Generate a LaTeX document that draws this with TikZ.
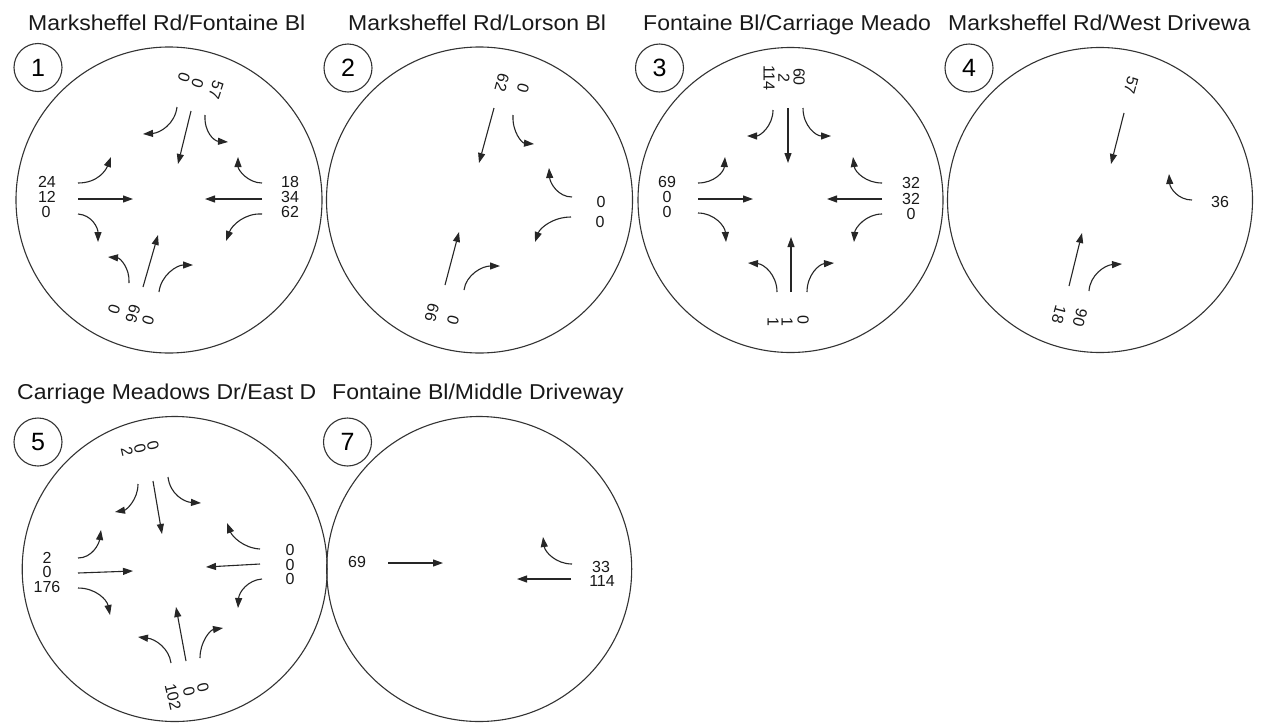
\documentclass[tikz,border=0pt]{standalone}
\usepackage{fontspec}
\setmainfont{Liberation Sans}
\usetikzlibrary{arrows.meta}
\begin{document}
\begin{tikzpicture}[x=1pt,y=-1pt,
  big/.style={draw=black!80, line width=1.1pt},
  mv/.style={draw=black!85, line width=1.1pt, -{Triangle[length=10pt,width=7pt]}},
  num/.style={font=\fontsize{16}{17}\selectfont, inner sep=0pt, text=black!90},
  ttl/.style={font=\fontsize{21.5}{24}\selectfont, inner sep=0pt, anchor=base west, text=black!90},
  idc/.style={circle, draw=black!80, line width=1.1pt, minimum size=48pt, inner sep=0pt, font=\fontsize{25}{28}\selectfont}
]
\fill[white] (0,0) rectangle (1265,723);
\useasboundingbox (0,0) rectangle (1265,723);

% titles
\node[ttl] (t1) at (28,30) {\scalebox{1.07}[1]{Marksheffel Rd/Fontaine Bl}};
\node[ttl] (t2) at (348,30) {\scalebox{1.07}[1]{Marksheffel Rd/Lorson Bl}};
\node[ttl] (t3) at (643,30) {\scalebox{1.07}[1]{Fontaine Bl/Carriage Meado}};
\node[ttl] (t4) at (948,30) {\scalebox{1.07}[1]{Marksheffel Rd/West Drivewa}};
\node[ttl] (t5) at (17,399) {\scalebox{1.07}[1]{Carriage Meadows Dr/East D}};
\node[ttl] (t7) at (332,399) {\scalebox{1.07}[1]{Fontaine Bl/Middle Driveway}};

% id circles
\node[idc] (i1) at (38,67.5) {1};
\node[idc] (i2) at (348,68) {2};
\node[idc] (i3) at (659.5,68) {3};
\node[idc] (i4) at (969,68) {4};
\node[idc] (i5) at (38,442) {5};
\node[idc] (i7) at (347.5,442) {7};

% big circles
\draw[big] (169,200) circle[radius=153pt];
\draw[big] (479.5,200) circle[radius=153pt];
\draw[big] (790.5,200) circle[radius=152.5pt];
\draw[big] (1100,200) circle[radius=152.5pt];
\draw[big] (174.7,569) circle[radius=152.5pt];
\draw[big] (479.2,569) circle[radius=152.5pt];

% ---------- circle 1 ----------
\draw[mv] (78,183) .. controls (98,183) and (106,170) .. (111,157);
\draw[mv] (78,199) -- (133,199);
\draw[mv] (78,214) .. controls (92,215) and (98,228) .. (98,242);
\draw[mv] (262,183) .. controls (248,183) and (238,170) .. (238,157);
\draw[mv] (262,199) -- (205,199);
\draw[mv] (262,214) .. controls (245,213) and (232,225) .. (226,241);
\draw[mv] (177,107) .. controls (175,124) and (160,133) .. (143,134);
\draw[mv] (191,111) -- (178,164);
\draw[mv] (205,115) .. controls (204,132) and (214,141) .. (228,142);
\draw[mv] (129,283) .. controls (130,268) and (120,258) .. (108,257);
\draw[mv] (143,287) -- (158,235);
\draw[mv] (159,292) .. controls (161,275) and (177,265) .. (193,265);
\node[num] (a1w1) at (47,182) {24};
\node[num] (a1w2) at (47,197) {12};
\node[num] (a1w3) at (46,212) {0};
\node[num] (a1e1) at (290,182) {18};
\node[num] (a1e2) at (290,197) {34};
\node[num] (a1e3) at (290,212) {62};
\node[num, rotate=-108] (a1n1) at (184,77) {0};
\node[num, rotate=-108] (a1n2) at (197.5,83) {0};
\node[num, rotate=-108] (a1n3) at (216,90) {57};
\node[num, rotate=-107] (a1s1) at (114,309) {0};
\node[num, rotate=-107] (a1s2) at (133,314) {66};
\node[num, rotate=-107] (a1s3) at (148,320) {0};

% ---------- circle 2 ----------
\draw[mv] (494,108) -- (479,163);
\draw[mv] (513,115) .. controls (512,132) and (522,143) .. (534,144);
\draw[mv] (572,197) .. controls (558,197) and (550,183) .. (549,168);
\draw[mv] (571,217) .. controls (553,217) and (540,228) .. (535,242);
\draw[mv] (445,285) -- (459,232);
\draw[mv] (464,290) .. controls (466,275) and (482,266) .. (500,266);
\node[num, rotate=-105] (a2n1) at (502,83) {62};
\node[num, rotate=-105] (a2n2) at (523,88) {0};
\node[num] (a2e1) at (601,202) {0};
\node[num] (a2e2) at (600,222) {0};
\node[num, rotate=-105] (a2s1) at (432,313) {66};
\node[num, rotate=-105] (a2s2) at (453,320) {0};

% ---------- circle 3 ----------
\draw[mv] (773,110) .. controls (773,126) and (760,136) .. (747,136);
\draw[mv] (788,108) -- (788,163);
\draw[mv] (803,108) .. controls (803,126) and (816,136) .. (831,136);
\draw[mv] (698,183) .. controls (714,183) and (724,172) .. (725,157);
\draw[mv] (698,199) -- (753,199);
\draw[mv] (698,213) .. controls (714,213) and (725,226) .. (726,242);
\draw[mv] (882,183) .. controls (866,183) and (855,172) .. (853,157);
\draw[mv] (882,199) -- (827,199);
\draw[mv] (882,214) .. controls (866,214) and (855,228) .. (854,242);
\draw[mv] (777,292) .. controls (777,275) and (764,264) .. (748,263);
\draw[mv] (791,292) -- (791,237);
\draw[mv] (807,292) .. controls (807,275) and (819,264) .. (834,263);
\node[num] (a3w1) at (667,182) {69};
\node[num] (a3w2) at (667,197) {0};
\node[num] (a3w3) at (667,212) {0};
\node[num] (a3e1) at (911,183) {32};
\node[num] (a3e2) at (911,199) {32};
\node[num] (a3e3) at (911,214) {0};
\node[num, rotate=-90] (a3n1) at (769,78) {114};
\node[num, rotate=-90] (a3n2) at (784,78) {2};
\node[num, rotate=-90] (a3n3) at (799,77) {60};
\node[num, rotate=-90] (a3s1) at (773,322) {1};
\node[num, rotate=-90] (a3s2) at (787,322) {1};
\node[num, rotate=-90] (a3s3) at (803,320) {0};

% ---------- circle 4 ----------
\draw[mv] (1124,113) -- (1111,164);
\draw[mv] (1192,200) .. controls (1178,200) and (1170,188) .. (1169,174);
\draw[mv] (1069,286) -- (1082,233);
\draw[mv] (1089,291) .. controls (1090,275) and (1105,265) .. (1122,264);
\node[num, rotate=-105] (a4n1) at (1131,85) {57};
\node[num] (a4e1) at (1220,202) {36};
\node[num, rotate=-105] (a4s1) at (1059,315) {18};
\node[num, rotate=-105] (a4s2) at (1080,318) {90};

% ---------- circle 5 ----------
\draw[mv] (138,484) .. controls (138,500) and (126,510) .. (115,512);
\draw[mv] (153,481) -- (162,534);
\draw[mv] (168,477) .. controls (170,494) and (184,502) .. (201,503);
\draw[mv] (78,558) .. controls (92,558) and (99,544) .. (101,530);
\draw[mv] (78,573) -- (133,571);
\draw[mv] (78,588) .. controls (96,588) and (107,600) .. (110,615);
\draw[mv] (260,549) .. controls (243,548) and (232,536) .. (227,523);
\draw[mv] (260,564) -- (206,567);
\draw[mv] (262,579) .. controls (248,580) and (239,592) .. (238,608);
\draw[mv] (171,663) .. controls (169,648) and (155,639) .. (138,637);
\draw[mv] (186,661) -- (176,607);
\draw[mv] (200,658) .. controls (200,642) and (210,630) .. (223,628);
\node[num] (a5w1) at (47,558) {2};
\node[num] (a5w2) at (47,572) {0};
\node[num] (a5w3) at (47,587) {176};
\node[num] (a5e1) at (290,550) {0};
\node[num] (a5e2) at (290,565) {0};
\node[num] (a5e3) at (290,579) {0};
\node[num, rotate=-77] (a5n1) at (127,452) {2};
\node[num, rotate=-77] (a5n2) at (140,449) {0};
\node[num, rotate=-77] (a5n3) at (153,446) {0};
\node[num, rotate=-77] (a5s1) at (203,688) {0};
\node[num, rotate=-77] (a5s2) at (189,692) {0};
\node[num, rotate=-77] (a5s3) at (173,697) {102};

% ---------- circle 7 ----------
\draw[mv] (388,563) -- (443,563);
\draw[mv] (572,564) .. controls (556,564) and (545,552) .. (543,537);
\draw[mv] (571,579) -- (517,579);
\node[num] (a7w1) at (357,562) {69};
\node[num] (a7e1) at (601,567) {33};
\node[num] (a7e2) at (602,581) {114};
\end{tikzpicture}
\end{document}
